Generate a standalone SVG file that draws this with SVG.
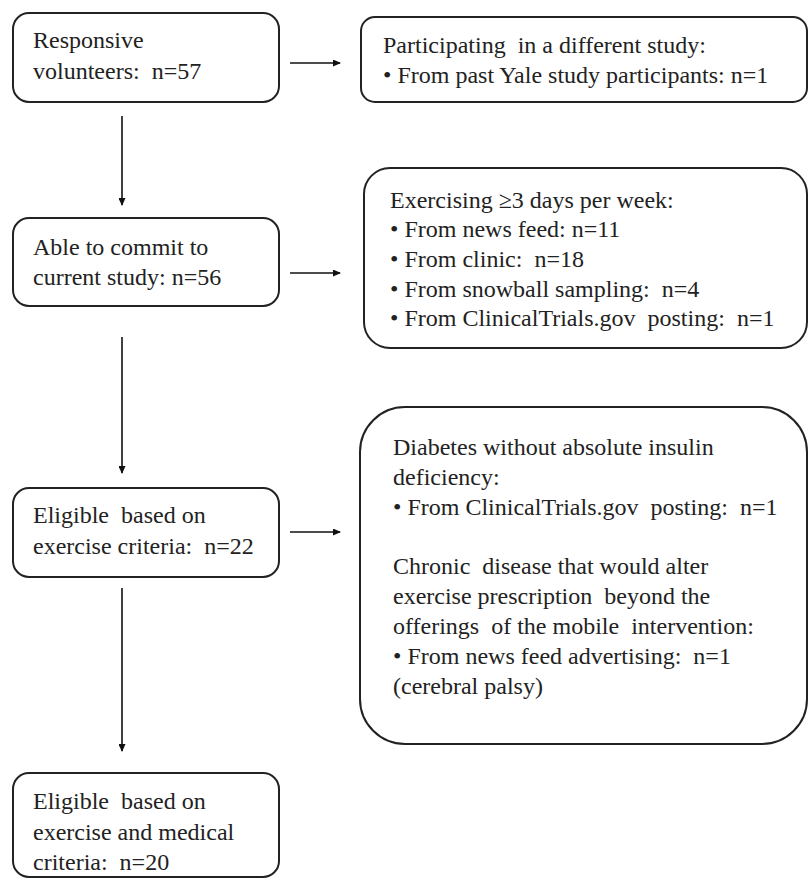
<svg xmlns="http://www.w3.org/2000/svg" width="810" height="879" viewBox="0 0 810 879">
<defs>
<marker id="ah" markerWidth="8" markerHeight="7" refX="7" refY="3.5" orient="auto" markerUnits="userSpaceOnUse">
<path d="M0,0 L8,3.5 L0,7 Z" fill="#111"/>
</marker>
</defs>
<style>
.box{fill:#fff;stroke:#222;stroke-width:2}
.t{font-family:'Liberation Serif','Times New Roman',Times,serif;font-size:24px;fill:#222;white-space:pre}
.c{stroke:#111;stroke-width:1.6;fill:none;marker-end:url(#ah)}
</style>
<rect width="810" height="879" fill="#fff"/>
<g id="connectors">
<line class="c" x1="290" y1="63" x2="340" y2="63"/>
<line class="c" x1="290" y1="273" x2="340" y2="273"/>
<line class="c" x1="290" y1="532" x2="340" y2="532"/>
<line class="c" x1="122" y1="116" x2="122" y2="205"/>
<line class="c" x1="122" y1="337" x2="122" y2="473"/>
<line class="c" x1="122" y1="588" x2="122" y2="751"/>
</g>
<g id="n1">
<rect class="box" x="13" y="13" width="266" height="89" rx="16"/>
<text class="t" x="33" y="48" font-family="Liberation Serif">Responsive</text>
<text class="t" x="33" y="79">volunteers:  n=57</text>
</g>
<g id="n2">
<rect class="box" x="361" y="17" width="446" height="85" rx="14"/>
<text class="t" x="383" y="53">Participating  in a different study:</text>
<text class="t" x="383" y="83">• From past Yale study participants: n=1</text>
</g>
<g id="n3">
<rect class="box" x="13" y="218" width="266" height="88" rx="16"/>
<text class="t" x="33" y="255">Able to commit to</text>
<text class="t" x="33" y="285">current study: n=56</text>
</g>
<g id="n4">
<rect class="box" x="364" y="168" width="443" height="180" rx="26"/>
<text class="t" x="390" y="208">Exercising ≥3 days per week:</text>
<text class="t" x="390" y="237">• From news feed: n=11</text>
<text class="t" x="390" y="267">• From clinic:  n=18</text>
<text class="t" x="390" y="297">• From snowball sampling:  n=4</text>
<text class="t" x="390" y="326">• From ClinicalTrials.gov  posting:  n=1</text>
</g>
<g id="n5">
<rect class="box" x="13" y="488" width="266" height="89" rx="16"/>
<text class="t" x="33" y="523">Eligible  based on</text>
<text class="t" x="33" y="554">exercise criteria:  n=22</text>
</g>
<g id="n6">
<rect class="box" x="13" y="773" width="266" height="104" rx="16"/>
<text class="t" x="33" y="809">Eligible  based on</text>
<text class="t" x="33" y="840">exercise and medical</text>
<text class="t" x="33" y="870">criteria:  n=20</text>
</g>
<g id="n7">
<rect class="box" x="360" y="407" width="447" height="337" rx="45"/>
<text class="t" x="393" y="455">Diabetes without absolute insulin</text>
<text class="t" x="393" y="485">deficiency:</text>
<text class="t" x="393" y="515">• From ClinicalTrials.gov  posting:  n=1</text>
<text class="t" x="393" y="574">Chronic  disease that would alter</text>
<text class="t" x="393" y="604">exercise prescription  beyond the</text>
<text class="t" x="393" y="634">offerings  of the mobile  intervention:</text>
<text class="t" x="393" y="664">• From news feed advertising:  n=1</text>
<text class="t" x="393" y="694">(cerebral palsy)</text>
</g>
</svg>
